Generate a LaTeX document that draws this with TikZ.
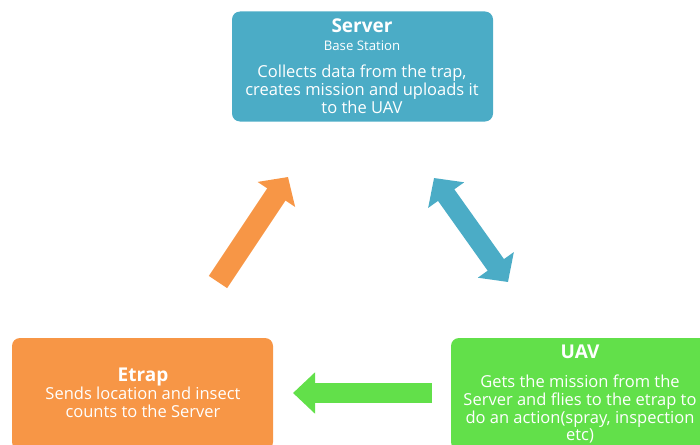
\documentclass[tikz,border=0pt]{standalone}
\usepackage{fontspec}
\setmainfont{Open Sans}
\usetikzlibrary{arrows.meta}
\definecolor{srvblue}{HTML}{4BACC6}
\definecolor{trporange}{HTML}{F79646}
\definecolor{uavgreen}{HTML}{62E04A}
\tikzset{
  box/.style={rounded corners=8pt, minimum width=261pt, inner sep=0pt},
  line/.style={text=white, anchor=base, inner sep=0pt, font=\fontsize{16.5}{18}\selectfont},
  titleline/.style={line, font=\fontsize{19}{20}\selectfont\bfseries},
  subline/.style={line, font=\fontsize{13.2}{16}\selectfont},
}
\begin{document}
\begin{tikzpicture}[x=1pt,y=-1pt]
\useasboundingbox (0,0) rectangle (700,444);
\clip (0,0) rectangle (700,444);
% boxes
\node[box, fill=srvblue, minimum height=110pt] (server) at (362.5,66.5) {};
\node[box, fill=trporange, minimum height=112pt] (etrap) at (142.5,394) {};
\node[box, fill=uavgreen, minimum height=112pt] (uav) at (581.5,394) {};
% server text
\node[titleline] (s1) at (362,33) {Server};
\node[subline] (s2) at (362,51) {Base Station};
\node[line] (s3) at (362,77) {Collects data from the trap,};
\node[line] (s4) at (362,95) {creates mission and uploads it};
\node[line] (s5) at (362,113) {to the UAV};
% etrap text
\node[titleline] (e1) at (143,381) {Etrap};
\node[line] (e2) at (143,399) {Sends location and insect};
\node[line] (e3) at (143,417) {counts to the Server};
% uav text
\node[titleline] (u1) at (580,358) {UAV};
\node[line] (u2) at (580,387) {Gets the mission from the};
\node[line] (u3) at (580,405) {Server and flies to the etrap to};
\node[line] (u4) at (580,423) {do an action(spray, inspection};
\node[line] (u5) at (580,440) {etc)};
% arrows
\coordinate (oa) at (218,282);
\coordinate (ob) at (288,177);
\coordinate (ba) at (434,178);
\coordinate (bb) at (508,282);
\coordinate (ga) at (432,393);
\coordinate (gb) at (293,393);
\draw[trporange, line width=22pt, -{Triangle[width=44pt,length=21pt]}] (oa) -- (ob);
\draw[srvblue, line width=20pt, {Triangle[width=43pt,length=21pt]}-{Triangle[width=43pt,length=21pt]}] (ba) -- (bb);
\draw[uavgreen, line width=20pt, -{Triangle[width=40pt,length=22pt]}] (ga) -- (gb);
\end{tikzpicture}
\end{document}
